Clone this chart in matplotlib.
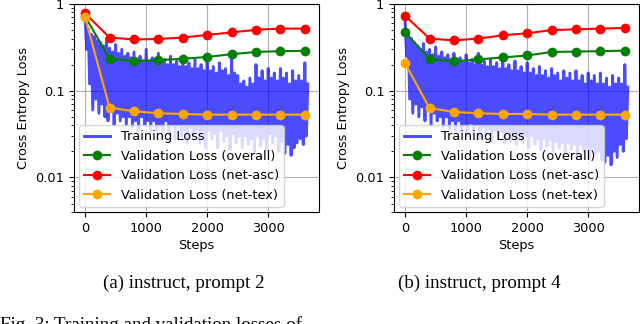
import numpy as np
import matplotlib
matplotlib.use("Agg")
import matplotlib.pyplot as plt

# validation checkpoints
val_steps = [0, 400, 800, 1200, 1600, 2000, 2400, 2800, 3200, 3600]

# (a) instruct, prompt 2
val_overall_a = [0.72, 0.234, 0.22, 0.225, 0.234, 0.245, 0.264, 0.28, 0.286, 0.288]
val_asc_a = [0.78, 0.41, 0.39, 0.395, 0.41, 0.44, 0.47, 0.505, 0.52, 0.52]
val_tex_a = [0.70, 0.064, 0.058, 0.055, 0.054, 0.053, 0.053, 0.053, 0.053, 0.053]

# (b) instruct, prompt 4
val_overall_b = [0.47, 0.234, 0.218, 0.23, 0.242, 0.255, 0.28, 0.283, 0.286, 0.29]
val_asc_b = [0.73, 0.40, 0.38, 0.40, 0.435, 0.46, 0.50, 0.51, 0.52, 0.53]
val_tex_b = [0.207, 0.063, 0.057, 0.055, 0.054, 0.054, 0.053, 0.053, 0.053, 0.053]

# training loss, read as local peaks (every 50 steps) and troughs (in between)
train_hi_a = [0.70, 0.52, 0.45, 0.42, 0.38, 0.36, 0.33, 0.40, 0.31, 0.28,
              0.34, 0.27, 0.30, 0.25, 0.27, 0.24, 0.28, 0.23, 0.25, 0.22,
              0.30, 0.22, 0.24, 0.21, 0.27, 0.21, 0.23, 0.20, 0.25, 0.20,
              0.22, 0.19, 0.24, 0.19, 0.21, 0.18, 0.23, 0.18, 0.20, 0.17,
              0.22, 0.17, 0.19, 0.16, 0.21, 0.17, 0.18, 0.15, 0.24, 0.16,
              0.15, 0.12, 0.13, 0.11, 0.14, 0.12, 0.20, 0.14, 0.17, 0.13,
              0.18, 0.14, 0.16, 0.13, 0.18, 0.14, 0.16, 0.12, 0.17, 0.13,
              0.15, 0.13, 0.21, 0.12]
train_lo_a = [0.30, 0.12, 0.06, 0.08, 0.055, 0.07, 0.05, 0.045, 0.06, 0.04,
              0.055, 0.045, 0.05, 0.04, 0.05, 0.038, 0.045, 0.035, 0.05, 0.04,
              0.045, 0.033, 0.045, 0.035, 0.04, 0.03, 0.045, 0.032, 0.04, 0.028,
              0.04, 0.03, 0.035, 0.025, 0.038, 0.03, 0.035, 0.025, 0.035, 0.022,
              0.035, 0.028, 0.032, 0.022, 0.035, 0.026, 0.03, 0.021, 0.032, 0.025,
              0.03, 0.022, 0.03, 0.024, 0.028, 0.02, 0.03, 0.023, 0.028, 0.021,
              0.032, 0.025, 0.03, 0.02, 0.026, 0.019, 0.024, 0.018, 0.022, 0.025,
              0.028, 0.024, 0.03]

train_hi_b = [0.62, 0.45, 0.40, 0.36, 0.33, 0.30, 0.35, 0.28, 0.30, 0.26,
              0.32, 0.25, 0.28, 0.24, 0.26, 0.23, 0.27, 0.22, 0.24, 0.21,
              0.26, 0.21, 0.23, 0.20, 0.27, 0.20, 0.22, 0.19, 0.23, 0.19,
              0.21, 0.18, 0.23, 0.18, 0.20, 0.17, 0.22, 0.17, 0.19, 0.16,
              0.21, 0.16, 0.18, 0.15, 0.19, 0.15, 0.17, 0.14, 0.18, 0.15,
              0.16, 0.13, 0.17, 0.14, 0.16, 0.13, 0.17, 0.13, 0.15, 0.12,
              0.16, 0.13, 0.15, 0.12, 0.16, 0.12, 0.14, 0.11, 0.15, 0.12,
              0.14, 0.12, 0.20, 0.11]
train_lo_b = [0.25, 0.08, 0.055, 0.07, 0.05, 0.065, 0.045, 0.06, 0.04, 0.055,
              0.045, 0.05, 0.038, 0.05, 0.036, 0.045, 0.035, 0.045, 0.033, 0.04,
              0.03, 0.042, 0.032, 0.04, 0.028, 0.038, 0.03, 0.036, 0.026, 0.035,
              0.028, 0.034, 0.025, 0.033, 0.026, 0.032, 0.024, 0.03, 0.025, 0.03,
              0.022, 0.03, 0.024, 0.028, 0.021, 0.028, 0.023, 0.027, 0.02, 0.026,
              0.022, 0.025, 0.019, 0.025, 0.021, 0.024, 0.018, 0.024, 0.02, 0.022,
              0.017, 0.022, 0.019, 0.02, 0.016, 0.015, 0.018, 0.014, 0.02, 0.017,
              0.024, 0.02, 0.028]

captions = ["(a) instruct, prompt 2", "(b) instruct, prompt 4"]
footer = "Fig. 3: Training and validation losses of"


def training_series(hi, lo):
    steps = np.concatenate([50 * np.arange(len(hi)), 25 + 50 * np.arange(len(lo))])
    vals = np.concatenate([hi, lo])
    order = np.argsort(steps)
    return steps[order], vals[order]


plt.rcParams["font.size"] = 9.3
fig = plt.figure(figsize=(6.4, 3.24), dpi=100)

panels = [
    (74, train_hi_a, train_lo_a, val_overall_a, val_asc_a, val_tex_a),
    (394, train_hi_b, train_lo_b, val_overall_b, val_asc_b, val_tex_b),
]
for left, hi, lo, ov, asc, tex in panels:
    ax = fig.add_axes([left / 640, 112 / 324, 245 / 640, 208 / 324])
    s, v = training_series(hi, lo)
    ax.plot(s, v, color="blue", alpha=0.7, lw=2.1, label="Training Loss")
    ax.plot(val_steps, ov, "o-", color="green", ms=6, lw=1.5, label="Validation Loss (overall)")
    ax.plot(val_steps, asc, "o-", color="red", ms=6, lw=1.5, label="Validation Loss (net-asc)")
    ax.plot(val_steps, tex, "o-", color="orange", ms=6, lw=1.5, label="Validation Loss (net-tex)")
    ax.set_yscale("log")
    ax.set_ylim(0.004, 1)
    ax.set_yticks([0.01, 0.1, 1])
    ax.set_yticklabels(["0.01", "0.1", "1"])
    ax.set_xticks([0, 1000, 2000, 3000])
    ax.grid(True)
    ax.set_xlabel("Steps", labelpad=3)
    ax.set_ylabel("Cross Entropy Loss")
    ax.legend(loc="lower left", borderaxespad=0.4)

fig.text(184 / 640, 1 - 283 / 324, captions[0], family="Liberation Serif", fontsize=13.7,
         ha="center", va="center")
fig.text(479 / 640, 1 - 283 / 324, captions[1], family="Liberation Serif", fontsize=13.7,
         ha="center", va="center")
fig.text(0.0, 1 - 316 / 324, footer, family="Liberation Serif", fontsize=13.7,
         ha="left", va="top")

fig.savefig("out.png", dpi=100)
